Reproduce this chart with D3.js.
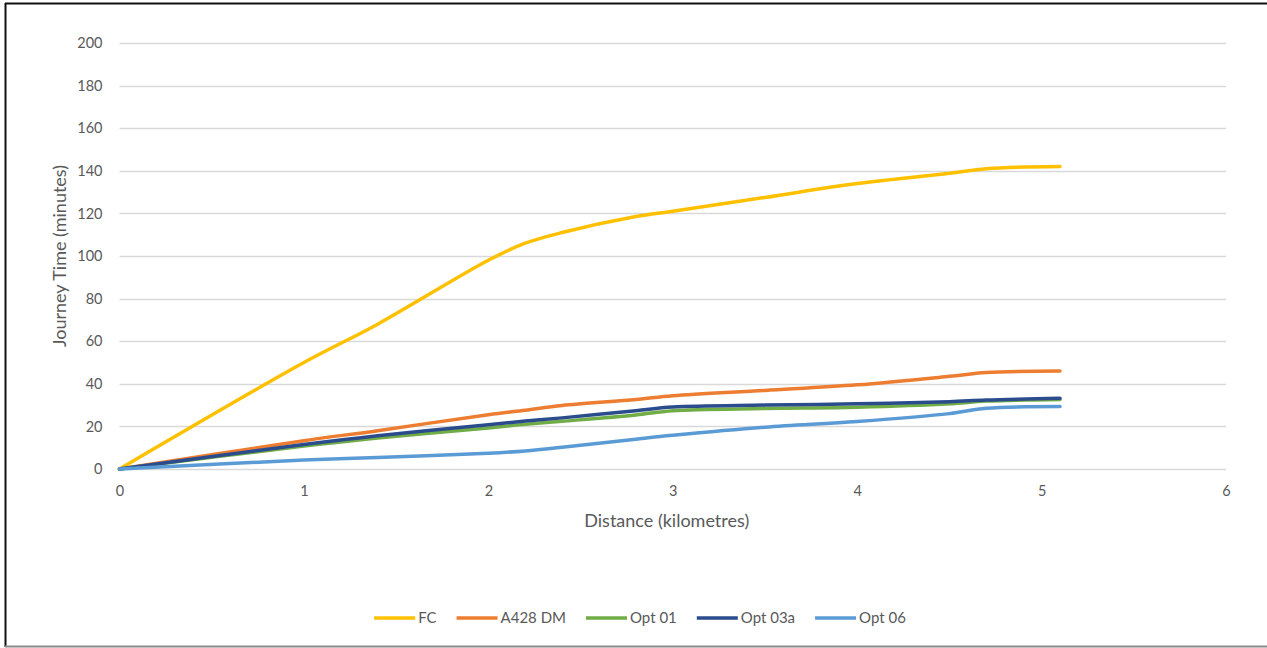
<!DOCTYPE html>
<html>
<head>
<meta charset="utf-8">
<script src="https://cdn.jsdelivr.net/npm/d3@7/dist/d3.min.js"></script>
<style>
  html, body { margin: 0; padding: 0; background: #fff; }
  svg { display: block; font-family: Lato, "Open Sans", sans-serif; }
</style>
</head>
<body>
<svg id="chart" width="1267" height="648"></svg>
<script>
// Distance along the route (km) shared by every series
const distances = [0, 1, 1.4, 2, 2.2, 2.4, 2.8, 3, 3.5, 4, 4.5, 4.7, 5.1];

// Cumulative journey time (minutes) for each scenario
const seriesNames = ["FC", "A428 DM", "Opt 01", "Opt 03a", "Opt 06"];
const fcTimes     = [0, 50, 68, 98, 106, 111, 118.5, 121, 127.5, 134, 138.8, 141, 142];
const dmTimes     = [0, 13.3, 18, 25.5, 27.6, 29.8, 32.6, 34.4, 36.9, 39.5, 43.5, 45.3, 46];
const opt01Times  = [0, 10.8, 14.6, 19.3, 21, 22.4, 25.4, 27.4, 28.4, 29, 30.6, 31.9, 32.6];
const opt03aTimes = [0, 11.5, 15.6, 20.8, 22.5, 24, 27.4, 29.1, 30, 30.6, 31.6, 32.4, 33.2];
const opt06Times  = [0, 4.2, 5.4, 7.4, 8.5, 10.2, 14, 15.8, 19.6, 22.3, 26, 28.5, 29.3];

const xTicks = [0, 1, 2, 3, 4, 5, 6];
const yTicks = [0, 20, 40, 60, 80, 100, 120, 140, 160, 180, 200];

const colors = ["#FFC000", "#ED7D31", "#70AD47", "#2B4C8C", "#5B9BD5"];
const allTimes = [fcTimes, dmTimes, opt01Times, opt03aTimes, opt06Times];

const svg = d3.select("#chart");

// Frame around the chart object
svg.append("rect").attr("x", 0).attr("y", 0).attr("width", 1267).attr("height", 648).attr("fill", "#fff");
svg.append("line").attr("x1", 5).attr("x2", 1267).attr("y1", 3.5).attr("y2", 3.5)
  .attr("stroke", "#111").attr("stroke-width", 2);
svg.append("line").attr("x1", 5.5).attr("x2", 5.5).attr("y1", 3).attr("y2", 647)
  .attr("stroke", "#111").attr("stroke-width", 2);
svg.append("line").attr("x1", 5).attr("x2", 1267).attr("y1", 646.5).attr("y2", 646.5)
  .attr("stroke", "#8a8a8a").attr("stroke-width", 2);

const x = d3.scaleLinear().domain([0, 6]).range([119.5, 1226]);
const y = d3.scaleLinear().domain([0, 200]).range([469, 43]);

// Horizontal gridlines
svg.append("g")
  .selectAll("line")
  .data(yTicks)
  .join("line")
  .attr("x1", x(0)).attr("x2", x(6))
  .attr("y1", d => Math.round(y(d)) + 0.5)
  .attr("y2", d => Math.round(y(d)) + 0.5)
  .attr("stroke", "#d9d9d9")
  .attr("stroke-width", 1.3);

// Y axis labels
const yAxis = d3.axisLeft(y).tickValues(yTicks).tickSize(0).tickPadding(0);
const gy = svg.append("g").attr("transform", `translate(${x(0) - 17},0)`).call(yAxis);
gy.select(".domain").remove();
gy.selectAll("text").attr("fill", "#595959").style("font-size", "14.5px").style("font-family", "Lato, sans-serif");

// X axis labels
const xAxis = d3.axisBottom(x).tickValues(xTicks).tickSize(0).tickPadding(0).tickFormat(d3.format("d"));
const gx = svg.append("g").attr("transform", `translate(0,${y(0) + 17})`).call(xAxis);
gx.select(".domain").remove();
gx.selectAll("text").attr("fill", "#595959").style("font-size", "14.5px").style("font-family", "Lato, sans-serif");

// Axis titles
svg.append("text")
  .attr("x", (x(0) + x(6)) / 2 - 6).attr("y", 527)
  .attr("text-anchor", "middle")
  .attr("fill", "#595959").style("font-size", "18px")
  .text("Distance (kilometres)");
svg.append("text")
  .attr("transform", `translate(66,${(y(0) + y(200)) / 2}) rotate(-90)`)
  .attr("text-anchor", "middle")
  .attr("fill", "#595959").style("font-size", "18px")
  .text("Journey Time (minutes)");

// Series lines
const line = d3.line()
  .x(d => x(d[0]))
  .y(d => y(d[1]))
  .curve(d3.curveCatmullRom.alpha(0.5));

svg.append("g")
  .selectAll("path")
  .data(allTimes)
  .join("path")
  .attr("d", times => line(distances.map((dist, i) => [dist, times[i]])))
  .attr("fill", "none")
  .attr("stroke", (d, i) => colors[i])
  .attr("stroke-width", 3.5)
  .attr("stroke-linecap", "round")
  .attr("stroke-linejoin", "round");

// Legend
const legendY = 618;
const swatch = 41;
const gapAfterText = 20;
const legend = svg.append("g");
const items = legend.selectAll("g").data(seriesNames).join("g");
items.append("line")
  .attr("x1", 0).attr("x2", swatch)
  .attr("y1", 0).attr("y2", 0)
  .attr("stroke", (d, i) => colors[i])
  .attr("stroke-width", 3.5);
items.append("text")
  .attr("x", swatch + 3).attr("y", 0).attr("dy", "0.35em")
  .attr("fill", "#595959").style("font-size", "15px")
  .text(d => d);
const widths = [];
items.each(function() {
  const w = this.querySelector("text").getComputedTextLength();
  widths.push(swatch + 3 + w);
});
const total = d3.sum(widths) + gapAfterText * (widths.length - 1);
let cursor = 640 - total / 2;
items.attr("transform", (d, i) => {
  const t = `translate(${cursor},${legendY})`;
  cursor += widths[i] + gapAfterText;
  return t;
});
</script>
</body>
</html>
